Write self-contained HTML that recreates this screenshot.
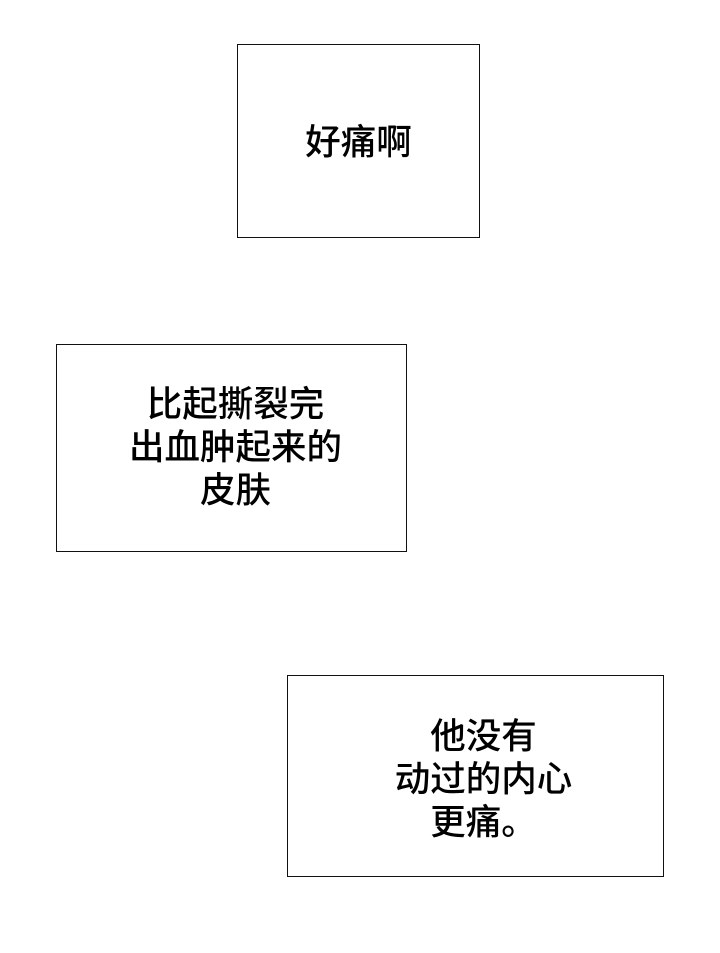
<!DOCTYPE html>
<html><head><meta charset="utf-8"><style>
html,body{margin:0;padding:0;background:#fff;}
body{width:720px;height:953px;position:relative;overflow:hidden;font-family:"Liberation Sans","Noto Sans CJK SC",sans-serif;}
.b{position:absolute;border:1.5px solid #111;box-sizing:border-box;}
.t{position:absolute;left:0;width:100%;text-align:center;font-size:35.5px;line-height:43px;color:#000;font-weight:500;}
</style></head><body>
<div class="b" style="left:237px;top:44px;width:243px;height:194px;">
  <div class="t" style="top:76px;">好痛啊</div>
</div>
<div class="b" style="left:56px;top:344px;width:351px;height:208px;">
  <div class="t" style="top:38px;left:4px;">比起撕裂完<br>出血肿起来的<br>皮肤</div>
</div>
<div class="b" style="left:287px;top:675px;width:377px;height:202px;">
  <div class="t" style="top:39px;left:8px;">他没有<br>动过的内心<br>更痛。</div>
</div>
</body></html>
